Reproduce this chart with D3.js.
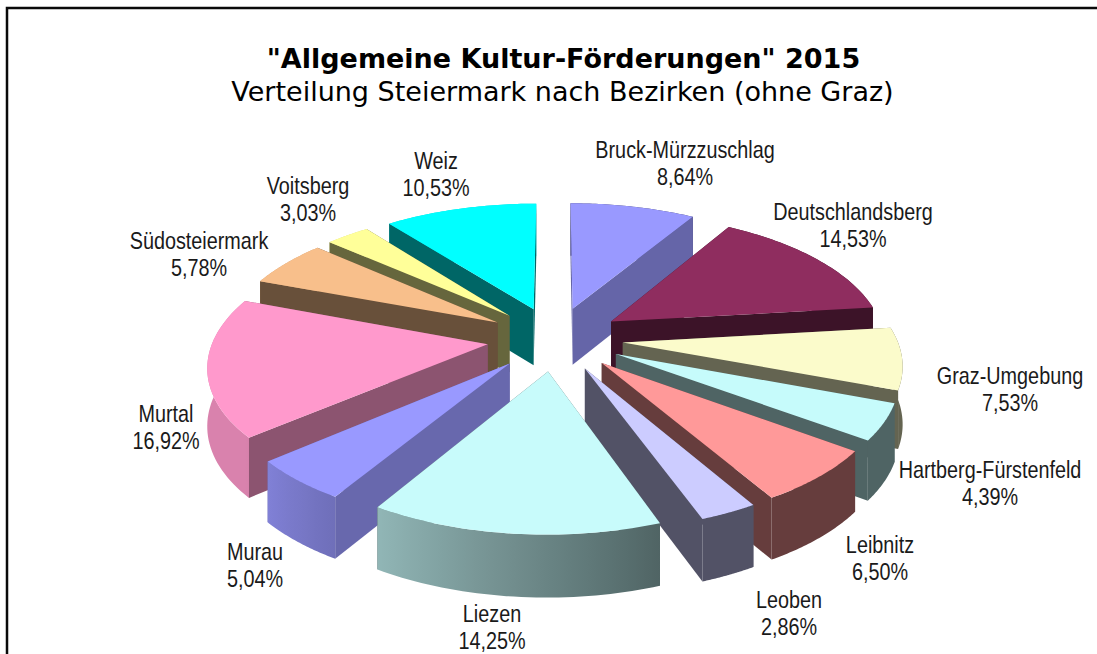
<!DOCTYPE html>
<html><head><meta charset="utf-8">
<script src="https://cdn.jsdelivr.net/npm/d3@7/dist/d3.min.js"></script>
<style>html,body{margin:0;padding:0;background:#fff;overflow:hidden}svg{display:block}</style>
</head><body><svg id="c" width="1097" height="654"></svg>
<script>
const categories=["Bruck-Mürzzuschlag","Deutschlandsberg","Graz-Umgebung","Hartberg-Fürstenfeld","Leibnitz","Leoben","Liezen","Murau","Murtal","Südosteiermark","Voitsberg","Weiz"];
const shares=[8.64,14.53,7.53,4.39,6.50,2.86,14.25,5.04,16.92,5.78,3.03,10.53];
const shareLabels=["8,64%","14,53%","7,53%","4,39%","6,50%","2,86%","14,25%","5,04%","16,92%","5,78%","3,03%","10,53%"];
const sliceColors=["#9999ff","#8f2d5f","#fbfbcb","#c6fbfb","#ff9999","#ccccff","#c8fbfb","#9999ff","#ff99cc","#f8bf8b","#ffff99","#00ffff"];
const wallShade=[0.66,0.42,0.4,0.4,0.4,0.4,0.4,0.68,0.55,0.42,0.4,0.4];
const labelAnchors=[[685,158],[853,220],[1010,384],[990,478],[880,553],[789,608],[492,622],[255,560],[166,422],[199,249],[308,194],[436,169]];
const titleText='"Allgemeine Kultur-Förderungen" 2015';
const subtitleText='Verteilung Steiermark nach Bezirken (ohne Graz)';

const W=1097,H=654,cx=555,cy=338.5,R=274,E=68,tilt=0.47,persp=0.00053,depth=57;
const svg=d3.select("#c");
const defs=svg.append("defs");
svg.append("path").attr("d",d3.line()([[7,H+5],[7,8],[W+5,8]])).attr("fill","none").attr("stroke","#0a0a0a").attr("stroke-width",2.5);

const color=d3.scaleOrdinal(categories,sliceColors);
const shade=d3.scaleOrdinal(categories,wallShade);
const lightScale=d3.scaleLinear([160,231],[0.4,0.85]).clamp(true);
const darken=(c,b)=>{const r=d3.rgb(c);return d3.rgb(r.r*b,r.g*b,r.b*b).formatHex();};

const proj=(X,Y,down)=>{const s=1/(1-persp*Y);return [cx+X*s,cy+tilt*Y*s+(down?depth*Math.sqrt(s):0)];};
const line=d3.line();
const arcs=d3.pie().sort(null).value(d=>d.v)(categories.map((n,i)=>({n,v:shares[i],i})));

const layers=arcs.map(a=>{
  const mid=(a.startAngle+a.endAngle)/2;
  const ox=E*Math.sin(mid),oy=-E*Math.cos(mid);
  const pt=(t,r,down)=>proj(ox+r*Math.sin(t),oy-r*Math.cos(t),down);
  const steps=d3.range(0,41).map(k=>a.startAngle+(a.endAngle-a.startAngle)*k/40);
  return {a,mid,ox,oy,pt,steps,order:oy};
}).sort((p,q)=>p.order-q.order);

layers.forEach(L=>{
  const {a,pt,steps,oy,mid}=L,name=a.data.n,base=color(name);
  const g=svg.append("g").attr("class","slice").attr("data-name",name);
  const wall=t=>line([pt(t,0,false),pt(t,R,false),pt(t,R,true),pt(t,0,true)]);
  const faces=[
    {y:oy-R/2*Math.cos(a.startAngle),d:wall(a.startAngle),fill:darken(base,shade(name))},
    {y:oy-R/2*Math.cos(a.endAngle),d:wall(a.endAngle),fill:darken(base,shade(name))}
  ];
  const gid="g"+a.data.i;
  const x0=pt(steps[0],R,false)[0],x1=pt(steps[40],R,false)[0];
  const lg=defs.append("linearGradient").attr("id",gid).attr("gradientUnits","userSpaceOnUse")
    .attr("x1",x0).attr("x2",x1).attr("y1",0).attr("y2",0);
  const stops=steps.filter((s,k)=>k%5===0);
  stops.forEach(t=>{
    const off=x1===x0?0:(pt(t,R,false)[0]-x0)/(x1-x0);
    lg.append("stop").attr("offset",Math.max(0,Math.min(1,off))).attr("stop-color",darken(base,lightScale(t*180/Math.PI)));
  });
  const outer=steps.map(t=>pt(t,R,false)).concat(steps.slice().reverse().map(t=>pt(t,R,true)));
  faces.push({y:oy-R*Math.cos(mid),d:line(outer)+"Z",fill:`url(#${gid})`});
  faces.sort((p,q)=>p.y-q.y).forEach(f=>g.append("path").attr("d",f.d).attr("fill",f.fill));
  const top=[pt(0,0,false)].concat(steps.map(t=>pt(t,R,false)));
  g.append("path").attr("d",line(top)+"Z").attr("fill",base);
});

const lab=svg.append("g").attr("font-family","'Liberation Sans',sans-serif").attr("font-size",24).attr("fill","#1a1a1a").attr("text-anchor","middle");
categories.forEach((n,i)=>{
  const [x,y]=labelAnchors[i];
  lab.append("text").attr("transform",`translate(${x},${y}) scale(0.825,1)`).text(n);
  lab.append("text").attr("transform",`translate(${x},${y+27}) scale(0.825,1)`).text(shareLabels[i]);
});
svg.append("text").attr("x",563.5).attr("y",68).attr("text-anchor","middle").attr("font-family","'DejaVu Sans'").attr("font-weight","bold").attr("font-size",27).attr("fill","#000").text(titleText);
svg.append("text").attr("x",562.5).attr("y",101).attr("text-anchor","middle").attr("font-family","'DejaVu Sans'").attr("font-size",27).attr("fill","#000").text(subtitleText);
</script></body></html>
